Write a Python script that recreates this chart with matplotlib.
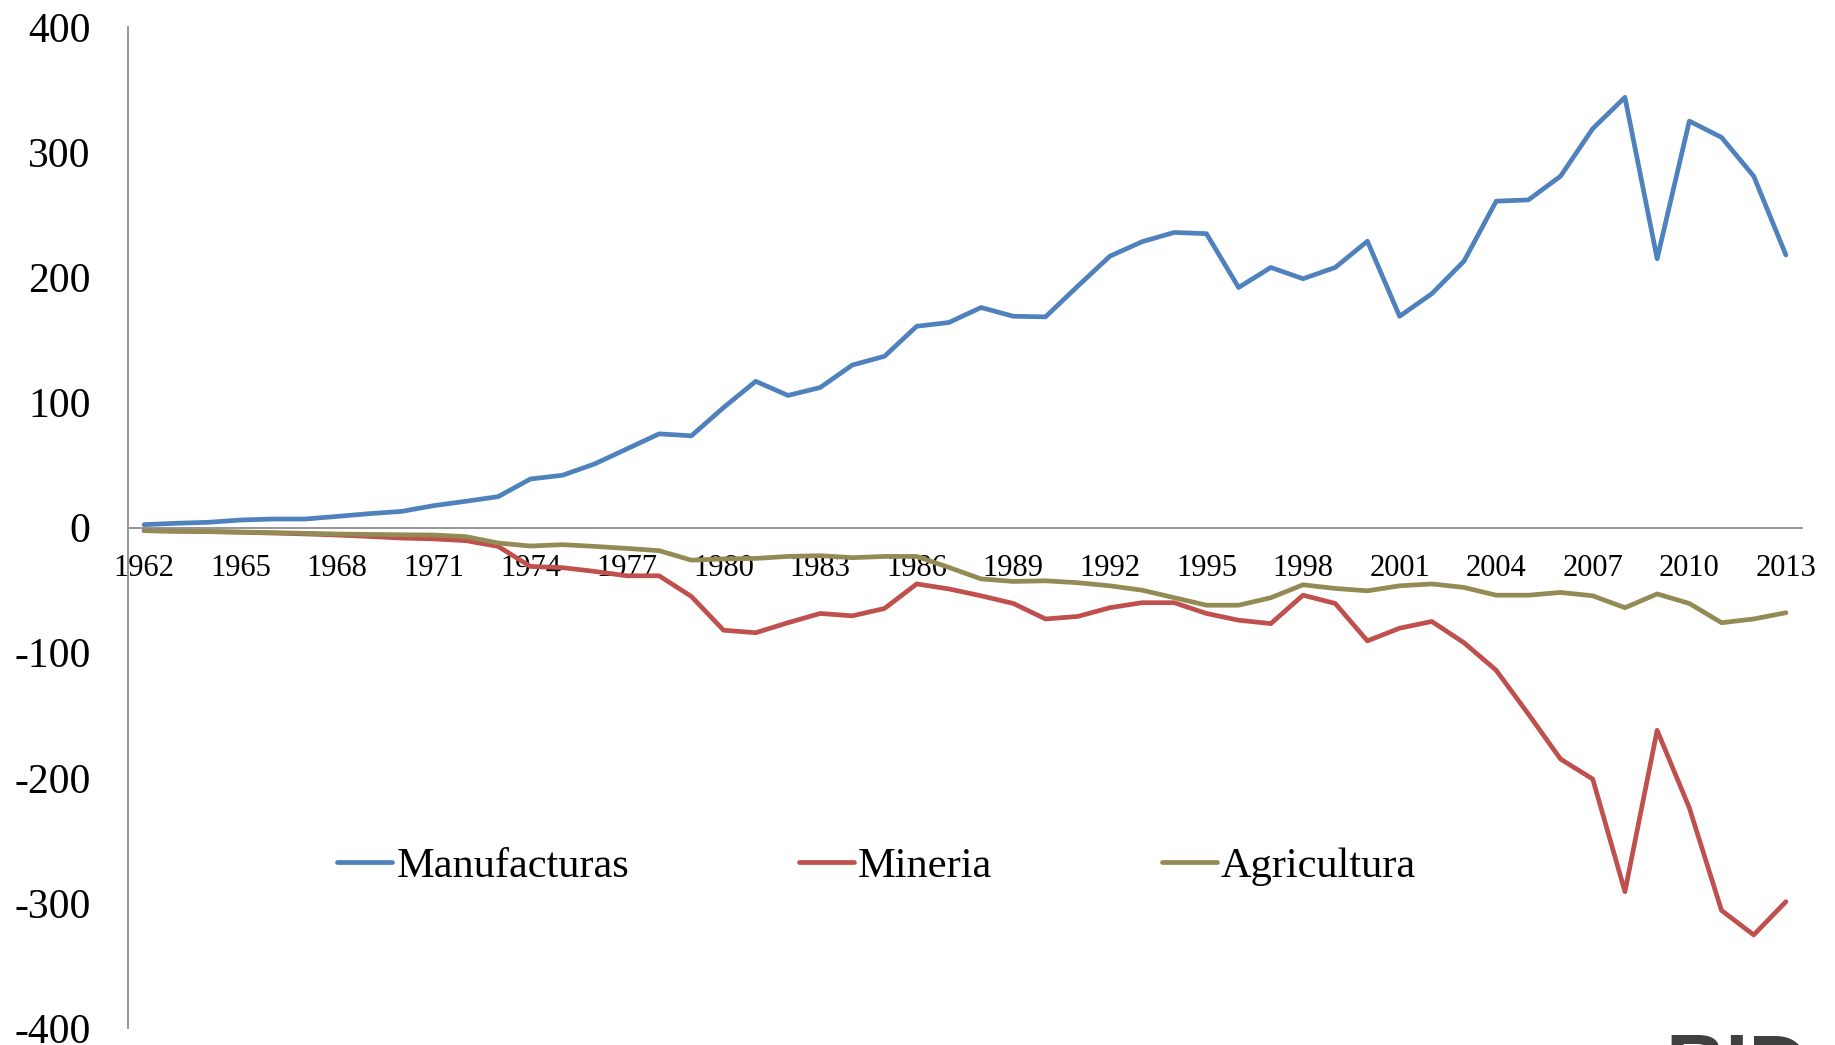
import matplotlib
matplotlib.use("Agg")
import matplotlib.pyplot as plt
from matplotlib.ticker import FuncFormatter

plt.rcParams['font.family'] = ['Liberation Serif', 'DejaVu Serif']

# datos
years = list(range(1962, 2014))
manufacturas = [2.4, 3.5, 4.3, 6.1, 6.9, 6.9, 9.0, 11.2, 13.0, 17.6,
                21.1, 24.8, 38.9, 41.9, 51, 63, 75, 73.4, 96, 117,
                105.7, 112, 130, 137, 161, 164, 176, 169, 168.5, 193,
                217, 228.6, 236, 235, 192, 208, 199, 208, 229, 169,
                187, 213, 261, 262, 281, 319, 344, 215, 325, 312,
                281, 218]
mineria = [-2.4, -2.8, -3.2, -3.7, -4.3, -5.0, -5.9, -7.0, -8.3, -9.0,
           -10.4, -15, -31, -32, -35, -38.5, -38.5, -55, -82, -84,
           -76, -68.6, -70.5, -64.6, -45, -49, -54.5, -60.6, -73, -71,
           -64, -60, -60, -68.6, -74, -76.7, -54, -60.6, -90.5, -80.4,
           -75, -92, -114, -149, -185, -201, -291, -162, -224, -306,
           -325.6, -299]
agricultura = [-2.4, -2.8, -3.1, -3.5, -4.0, -4.5, -5.1, -5.4, -5.7, -5.9,
               -7.2, -12.3, -14.7, -13.6, -15, -16.6, -18.4, -26, -25, -24.6,
               -23, -22.4, -24, -23, -23, -31.8, -41, -43, -42.5, -44,
               -46.5, -50, -56, -62, -62, -56, -45.7, -48.6, -50.5, -46.5,
               -45, -47.8, -54, -54, -51.8, -54.5, -64, -53, -60.6, -76,
               -73, -68]
series_names = ['Manufacturas', 'Mineria', 'Agricultura']
colors = ['#4F81BD', '#C0504D', '#948A54']
x_ticks = list(range(1962, 2014, 3))
y_ticks = list(range(-400, 401, 100))

fig = plt.figure(figsize=(18.35, 10.45), dpi=100)
ax = fig.add_axes([128 / 1835, 1 - 1028 / 1045, (1802 - 128) / 1835, (1028 - 27.3) / 1045])

for vals, name, c in zip([manufacturas, mineria, agricultura], series_names, colors):
    ax.plot(years, vals, color=c, linewidth=3.4, label=name,
            solid_joinstyle='round', solid_capstyle='round')

ax.set_xlim(1961.5, 2013.5)
ax.set_ylim(-400, 400)

# ejes estilo excel
for s in ['top', 'right']:
    ax.spines[s].set_visible(False)
ax.spines['bottom'].set_position(('data', 0))
ax.spines['bottom'].set_color('#8C8C8C')
ax.spines['left'].set_color('#8C8C8C')
ax.spines['bottom'].set_linewidth(1.3)
ax.spines['left'].set_linewidth(1.3)

ax.set_xticks(x_ticks)
ax.set_xticklabels([str(y) for y in x_ticks])
ax.set_yticks(y_ticks)
ax.yaxis.set_major_formatter(FuncFormatter(lambda v, p: '%d' % v))
ax.tick_params(axis='x', length=0, pad=19, labelsize=22)
ax.tick_params(axis='y', length=0, pad=27, labelsize=30)

fig.legend(loc='center left', bbox_to_anchor=(337 / 1835, 1 - 867 / 1045),
           ncol=3, frameon=False, fontsize=30.5, handlelength=1.3,
           handletextpad=0.1, columnspacing=4.0, borderpad=0, borderaxespad=0)

# logo BID cortado abajo a la derecha
fig.text(1665 / 1835, -0.062, 'BID', fontsize=60, fontweight='bold',
         color='#404040', family='Liberation Sans', va='bottom', ha='left')

fig.savefig('out.png', dpi=100)
